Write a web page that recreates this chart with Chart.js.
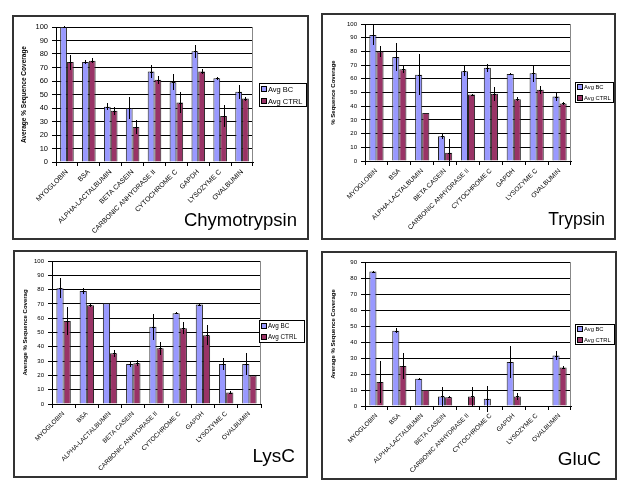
<!DOCTYPE html>
<html>
<head>
<meta charset="utf-8">
<script src="https://cdn.jsdelivr.net/npm/chart.js@4.4.1/dist/chart.umd.min.js"></script>
<style>
  body { margin: 0; background: #fff; }
  #page { position: relative; width: 618px; height: 480px; overflow: hidden; background: #fff; }
  .panel { position: absolute; border: 2px solid #333; background: #fff; box-sizing: border-box; }
  .panel canvas { position: absolute; left: 0; top: 0; }
</style>
</head>
<body>
<div id="page">
  <div class="panel" id="p1"><canvas id="c1"></canvas></div>
  <div class="panel" id="p2"><canvas id="c2"></canvas></div>
  <div class="panel" id="p3"><canvas id="c3"></canvas></div>
  <div class="panel" id="p4"><canvas id="c4"></canvas></div>
</div>
<script>
// categories
const proteins = ["MYOGLOBIN", "BSA", "ALPHA-LACTALBUMIN", "BETA CASEIN", "CARBONIC ANHYDRASE II",
  "CYTOCHROME C", "GAPDH", "LYSOZYME C", "OVALBUMIN"];
const seriesNames = ["Avg BC", "Avg CTRL"];

// Chymotrypsin
const chymoBC = [100, 74, 41, 40, 67, 59, 82, 62, 52];
const chymoBCErr = [0.5, 1.5, 2.5, 8, 4.5, 6, 5, 1, 5];
const chymoCTRL = [74, 75, 38, 26, 61, 44, 67, 34, 47];
const chymoCTRLErr = [5.5, 2, 3, 5, 3, 8, 2, 8, 1.5];

// Trypsin
const trypBC = [92, 76, 63, 18, 65.5, 68, 63.5, 64, 47];
const trypBCErr = [7, 10, 15, 2, 3.5, 3, 1, 6, 3.5];
const trypCTRL = [80, 67, 35, 6, 48.5, 49, 45, 52, 42];
const trypCTRLErr = [4, 3, 0, 10, 0.5, 5, 1.5, 3, 1];

// LysC
const lysBC = [81, 79, 70.5, 28, 54, 63.5, 69.5, 28, 28];
const lysBCErr = [7, 2, 0, 2, 9, 0.5, 0.5, 4.5, 8];
const lysCTRL = [58, 69, 35.5, 28.5, 39, 53, 48, 8, 20];
const lysCTRLErr = [10, 1, 2.5, 2, 4.5, 4, 7, 1, 0.5];

// GluC
const glucBC = [84, 47, 17, 6, null, 4.5, 27.5, null, 31.5];
const glucBCErr = [0.5, 1.5, 0.5, 6, 0, 8, 10, 0, 3];
const glucCTRL = [15, 25, 10, 5.5, 6, null, 6, null, 24];
const glucCTRLErr = [13, 8, 0, 0.5, 6, 0, 2, 0, 1];

const colBC = "#9999ff";
const colCTRL = "#993366";
const fam = "'Liberation Sans', Arial, sans-serif";

// error bars, drawn through the y scale
const errorBars = {
  id: "errorBars",
  afterDatasetsDraw(chart) {
    const ctx = chart.ctx;
    const ys = chart.scales.y;
    ctx.save();
    ctx.strokeStyle = "#000";
    ctx.lineWidth = 1;
    chart.data.datasets.forEach((ds, di) => {
      const meta = chart.getDatasetMeta(di);
      ds.errors.forEach((e, i) => {
        const v = ds.data[i];
        if (v == null || !e) return;
        const x = Math.round(meta.data[i].x) + 0.5;
        const top = Math.round(ys.getPixelForValue(v + e));
        const bot = Math.round(ys.getPixelForValue(v - e));
        const vy = Math.round(ys.getPixelForValue(v)) + 0.5;
        ctx.beginPath();
        ctx.moveTo(x, top); ctx.lineTo(x, bot);
        ctx.moveTo(x - 1.5, vy); ctx.lineTo(x + 1.5, vy);
        ctx.stroke();
      });
    });
    ctx.restore();
  }
};

// legend box, right border of plot, big title
const panelDecor = {
  id: "panelDecor",
  beforeDatasetsDraw(chart) {
    const a = chart.chartArea, ctx = chart.ctx;
    ctx.save();
    ctx.strokeStyle = "#888";
    ctx.lineWidth = 1;
    ctx.beginPath();
    ctx.moveTo(Math.round(a.right) - 0.5, a.top);
    ctx.lineTo(Math.round(a.right) - 0.5, a.bottom);
    ctx.stroke();
    ctx.restore();
  },
  afterDraw(chart, args, o) {
    const ctx = chart.ctx;
    ctx.save();
    const [lx, ly, lw, lh] = o.legend;
    ctx.fillStyle = "#fff";
    ctx.fillRect(lx, ly, lw, lh);
    ctx.strokeStyle = "#000";
    ctx.lineWidth = 1;
    ctx.strokeRect(lx + 0.5, ly + 0.5, lw - 1, lh - 1);
    ctx.font = o.legendFont + "px " + fam;
    ctx.textBaseline = "middle";
    ctx.textAlign = "left";
    chart.data.datasets.forEach((ds, i) => {
      const cy = Math.round(ly + lh * (i + 0.5) / 2);
      ctx.fillStyle = ds.backgroundColor;
      ctx.fillRect(lx + 3, cy - 2, 4, 4);
      ctx.strokeRect(lx + 2.5, cy - 2.5, 5, 5);
      ctx.fillStyle = "#000";
      ctx.fillText(ds.label, lx + 9, cy + 0.5);
    });
    ctx.font = o.titleFont + "px " + fam;
    ctx.textAlign = "right";
    ctx.textBaseline = "alphabetic";
    ctx.fillText(o.title, o.titlePos[0], o.titlePos[1]);
    ctx.restore();
  }
};

function drawPanel(divId, canvasId, bc, bcErr, ctrl, ctrlErr, cfg) {
  const div = document.getElementById(divId);
  const [bx, by, bw, bh] = cfg.box;
  div.style.left = bx + "px";
  div.style.top = by + "px";
  div.style.width = bw + "px";
  div.style.height = bh + "px";
  const W = bw - 4, H = bh - 4, ox = bx + 2, oy = by + 2;
  const canvas = document.getElementById(canvasId);
  canvas.width = W; canvas.height = H;
  canvas.style.width = W + "px"; canvas.style.height = H + "px";

  const [al, at, ar, ab] = cfg.area;
  const padLeft = cfg.yTitleX - ox - cfg.yTitleFont * 1.2 / 2;
  const yW = al - ox - padLeft;
  const xH = oy + H - ab;

  new Chart(canvas, {
    type: "bar",
    data: {
      labels: proteins,
      datasets: [
        { label: seriesNames[0], data: bc, errors: bcErr, backgroundColor: colBC,
          borderColor: "#222", borderWidth: 1, categoryPercentage: 0.62, barPercentage: 1 },
        { label: seriesNames[1], data: ctrl, errors: ctrlErr, backgroundColor: colCTRL,
          borderColor: "#222", borderWidth: 1, categoryPercentage: 0.62, barPercentage: 1 }
      ]
    },
    options: {
      responsive: false,
      animation: false,
      devicePixelRatio: 1,
      layout: {
        autoPadding: false,
        padding: { left: padLeft, top: at - oy, right: ox + W - ar, bottom: 0 }
      },
      plugins: {
        legend: { display: false },
        tooltip: { enabled: false },
        panelDecor: {
          legend: [cfg.legend[0] - ox, cfg.legend[1] - oy, cfg.legend[2], cfg.legend[3]],
          legendFont: cfg.legendFont,
          title: cfg.title,
          titleFont: cfg.titleFont,
          titlePos: [cfg.titlePos[0] - ox, cfg.titlePos[1] - oy]
        }
      },
      scales: {
        x: {
          grid: { drawOnChartArea: false, drawTicks: true, tickLength: 4, color: "#000", offset: true },
          border: { color: "#000", width: 1 },
          ticks: { autoSkip: false, minRotation: 45, maxRotation: 45, padding: 2, color: "#000",
            font: { family: fam, size: cfg.xFont } },
          afterFit: (s) => { s.height = xH; s.paddingLeft = 0; s.paddingRight = 0; }
        },
        y: {
          min: 0,
          max: cfg.yMax,
          grid: { color: "#000", tickLength: 4 },
          border: { color: "#000", width: 1 },
          ticks: { stepSize: 10, padding: 4, color: "#000", font: { family: fam, size: cfg.yFont } },
          title: { display: true, text: cfg.yTitle, padding: 0, color: "#000",
            font: { family: fam, size: cfg.yTitleFont, weight: "bold" } },
          afterFit: (s) => { s.width = yW; s.paddingTop = 0; s.paddingBottom = 0; }
        }
      }
    },
    plugins: [errorBars, panelDecor]
  });
}

drawPanel("p1", "c1", chymoBC, chymoBCErr, chymoCTRL, chymoCTRLErr, {
  box: [12, 15, 297, 225], area: [56, 27, 253, 162], yMax: 100,
  yTitle: "Average % Sequence Coverage", yTitleX: 24, yTitleFont: 6.5, yFont: 7.5, xFont: 6.9,
  legend: [259, 83, 48, 24], legendFont: 7.5,
  title: "Chymotrypsin", titleFont: 18.5, titlePos: [297, 226]
});
drawPanel("p2", "c2", trypBC, trypBCErr, trypCTRL, trypCTRLErr, {
  box: [321, 13, 295, 227], area: [365, 24, 571, 161], yMax: 100,
  yTitle: "% Sequence Coverage", yTitleX: 333, yTitleFont: 6, yFont: 6, xFont: 6.6,
  legend: [575, 82, 39, 21], legendFont: 5.8,
  title: "Trypsin", titleFont: 17.5, titlePos: [605, 225]
});
drawPanel("p3", "c3", lysBC, lysBCErr, lysCTRL, lysCTRLErr, {
  box: [13, 250, 295, 228], area: [52, 261, 261, 404], yMax: 100,
  yTitle: "Average % Sequence Coverag", yTitleX: 25, yTitleFont: 6, yFont: 6, xFont: 6.4,
  legend: [259, 320, 46, 23], legendFont: 6.3,
  title: "LysC", titleFont: 19, titlePos: [295, 462]
});
drawPanel("p4", "c4", glucBC, glucBCErr, glucCTRL, glucCTRLErr, {
  box: [321, 251, 296, 229], area: [365, 262, 571, 406], yMax: 90,
  yTitle: "Average % Sequence Coverage", yTitleX: 333, yTitleFont: 6, yFont: 6, xFont: 6.4,
  legend: [575, 324, 40, 21], legendFont: 5.8,
  title: "GluC", titleFont: 19, titlePos: [601, 465]
});
</script>
</body>
</html>
